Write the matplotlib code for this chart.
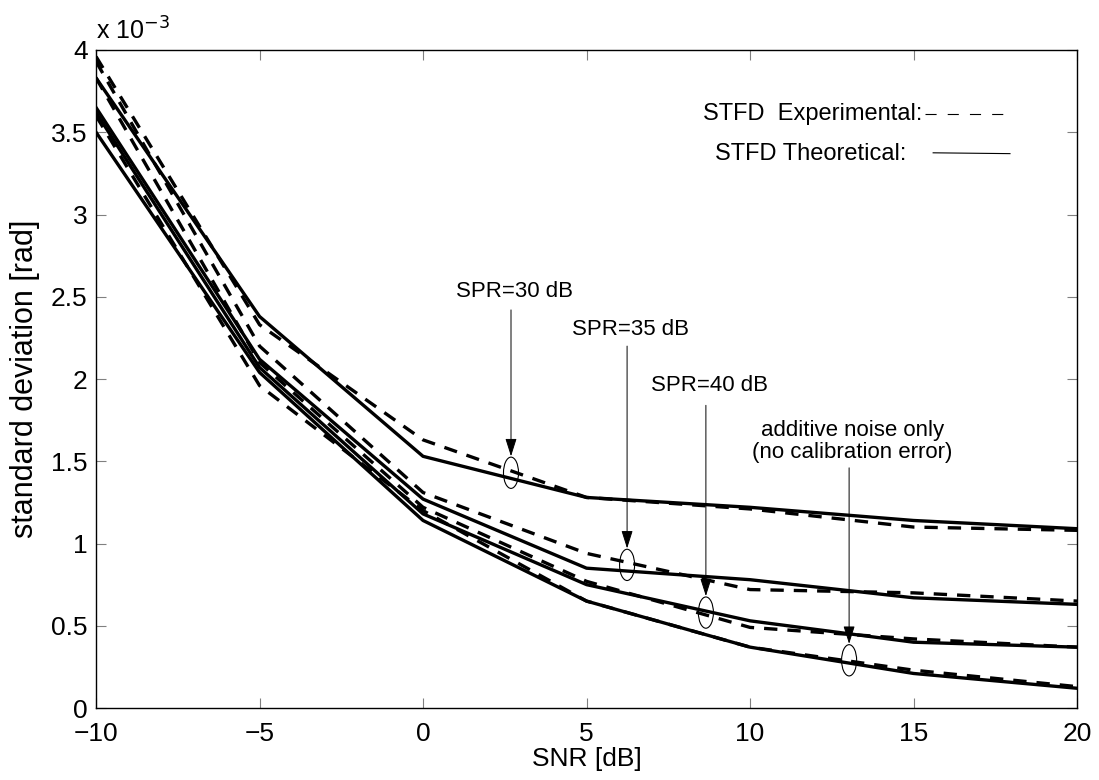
import numpy as np
import matplotlib.pyplot as plt
from matplotlib.patches import Ellipse

plt.rcParams['font.family'] = ['Liberation Sans', 'DejaVu Sans']

# SNR grid [dB]
snr = [-10, -5, 0, 5, 10, 15, 20]

# standard deviation, units of 1e-3 rad
theo_30 = [3.83, 2.38, 1.53, 1.28, 1.22, 1.14, 1.09]
exp_30 = [3.96, 2.33, 1.63, 1.28, 1.21, 1.10, 1.08]
theo_35 = [3.65, 2.12, 1.27, 0.85, 0.78, 0.67, 0.63]
exp_35 = [3.93, 2.20, 1.31, 0.94, 0.72, 0.70, 0.65]
theo_40 = [3.62, 2.07, 1.18, 0.75, 0.53, 0.40, 0.37]
exp_40 = [3.83, 2.10, 1.22, 0.77, 0.49, 0.42, 0.37]
theo_noise = [3.50, 2.04, 1.14, 0.65, 0.37, 0.21, 0.12]
exp_noise = [3.60, 1.96, 1.20, 0.65, 0.37, 0.23, 0.13]

# annotations: label, circle position (snr, std), text centre y, arrow start y
notes = [
    ("SPR=30 dB", 2.69, 1.43, 2.53, 2.42),
    ("SPR=35 dB", 6.24, 0.87, 2.30, 2.20),
    ("SPR=40 dB", 8.65, 0.58, 1.96, 1.84),
    ("additive noise only\n(no calibration error)", 13.03, 0.29, 1.62, 1.46),
]

fig = plt.figure(figsize=(10.99, 7.8), dpi=100)
ax = fig.add_axes([0.0874, 0.0923, 0.8926, 0.8436])

for t, e in [(theo_30, exp_30), (theo_35, exp_35), (theo_40, exp_40), (theo_noise, exp_noise)]:
    ax.plot(snr, t, color='black', lw=2.4)
    ax.plot(snr, e, color='black', lw=2.4, dashes=(4, 3))

for label, x, y, ty, ay in notes:
    ax.add_patch(Ellipse((x, y), 0.46, 0.19, fill=False, color='black', lw=0.8))
    ax.annotate("", xy=(x, y + 0.10), xytext=(x, ay),
                arrowprops=dict(arrowstyle='-|>,head_length=1.1,head_width=0.35',
                                color='black', lw=0.7, shrinkA=0, shrinkB=0))
    ax.text(x + 0.1, ty, label, ha='center', va='center', fontsize=16, linespacing=1.1)

# legend drawn by hand, like the original
ax.text(8.56, 3.61, "STFD  Experimental:", ha='left', va='center', fontsize=17)
ax.plot([15.35, 17.95], [3.61, 3.61], color='black', lw=0.8, dashes=(10, 10))
ax.text(8.93, 3.37, "STFD Theoretical:", ha='left', va='center', fontsize=17)
ax.plot([15.6, 17.95], [3.375, 3.37], color='black', lw=0.8)

ax.set_xlim(-10, 20)
ax.set_ylim(0, 4)
ax.set_xticks(np.arange(-10, 21, 5))
ax.set_yticks(np.arange(0, 4.01, 0.5))
ax.set_xticklabels(['\u221210', '\u22125', '0', '5', '10', '15', '20'])
ax.set_yticklabels(['0', '0.5', '1', '1.5', '2', '2.5', '3', '3.5', '4'])
ax.tick_params(direction='in', top=True, right=True, length=7, width=0.8,
               color='gray', labelsize=19)
ax.tick_params(axis='y', pad=6)
ax.tick_params(axis='x', pad=10)
for s in ax.spines.values():
    s.set_linewidth(1.0)

ax.text(0.0, 1.008, "x 10$^{-3}$", transform=ax.transAxes, ha='left', va='bottom', fontsize=18)
ax.set_xlabel("SNR [dB]", fontsize=19, labelpad=1)
ax.set_ylabel("standard deviation [rad]", fontsize=22, labelpad=8)

fig.savefig("out.png", dpi=100)
